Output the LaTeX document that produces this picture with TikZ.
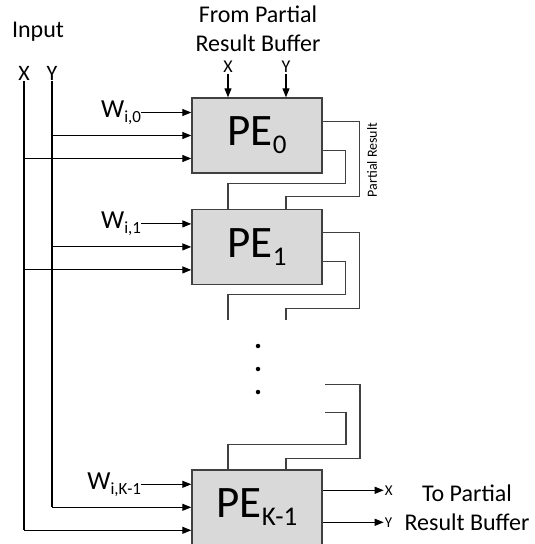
\documentclass[tikz,border=0pt]{standalone}
\usepackage{fontspec}
\setmainfont{Carlito}
\usetikzlibrary{positioning, arrows.meta}

\newcommand{\pesub}[1]{\raisebox{-8pt}{\fontsize{27}{27}\selectfont #1}}
\newcommand{\wsub}[1]{\raisebox{-5pt}{\fontsize{17}{17}\selectfont #1}}

\begin{document}
\begin{tikzpicture}[
    x=1pt, y=-1pt,
    >={Triangle[length=9pt, width=7pt]},
    node distance=35pt,
    pebox/.style={rectangle, draw=black!75, line width=1.4pt, fill=black!15,
                  minimum width=130pt, minimum height=75pt,
                  font=\fontsize{45}{45}\selectfont},
    wire/.style={->, line width=1.1pt},
    trunk/.style={line width=1.1pt},
    loopline/.style={line width=1.1pt, draw=black!75},
    biglabel/.style={font=\fontsize{24}{29}\selectfont, align=center},
    inlabel/.style={font=\fontsize{22}{22}\selectfont, inner sep=1pt},
    toplabel/.style={font=\fontsize{18}{18}\selectfont, inner sep=1pt},
    outlabel/.style={font=\fontsize{15}{15}\selectfont, inner sep=1pt, anchor=west},
    wlabel/.style={font=\fontsize{26}{26}\selectfont, inner sep=0pt, anchor=east},
    vdot/.style={circle, fill, inner sep=0pt, minimum size=4.5pt}
]
  \useasboundingbox (0,0) rectangle (535,544);

  % Column of PEs
  \node[pebox] (pe0) at (257,135.5) {PE\pesub{0}};
  \node[pebox, below=of pe0] (pe1) {PE\pesub{1}};
  \node[pebox, below=184pt of pe1] (pek) {PE\pesub{K-1}};

  % Input side
  \node[biglabel] (input) at (38,32) {Input};
  \node[inlabel] (inx) at (24,73) {X};
  \node[inlabel] (iny) at (52,73) {Y};

  % From buffer
  \node[biglabel] (frombuf) at (258,29) {From Partial\\Result Buffer};
  \node[toplabel] (tx) at (228,67) {X};
  \node[toplabel] (ty) at (286,67) {Y};
  \draw[wire] (tx.south) -- (tx.south |- pe0.north);
  \draw[wire] (ty.south) -- (ty.south |- pe0.north);

  % Inputs to every PE
  \foreach \p/\w in {pe0/{i,0}, pe1/{i,1}, pek/{i,K-1}} {
    \coordinate (\p-w) at ([yshift=23pt]\p.west);
    \coordinate (\p-y) at (\p.west);
    \coordinate (\p-x) at ([yshift=-23pt]\p.west);
    \node[wlabel] (\p-wl) at ([xshift=-50pt]\p-w) {W\wsub{\w}};
    \draw[wire] (\p-wl.east) -- (\p-w);
    \draw[wire] (iny.south |- \p-y) -- (\p-y);
    \draw[wire] (inx.south |- \p-x) -- (\p-x);
  }
  \draw[trunk] (inx.south) -- (inx.south |- pek-x);
  \draw[trunk] (iny.south) -- (iny.south |- pek-y);

  % Partial result loops
  \draw[loopline] ([yshift=14pt]pe0.east) -- ++(37,0)
    |- ([xshift=29pt, yshift=12pt]pe1.north) -- ([xshift=29pt]pe1.north);
  \draw[loopline] ([yshift=-15pt]pe0.east) -- ++(23,0)
    |- ([xshift=-29pt, yshift=25pt]pe1.north) -- ([xshift=-29pt]pe1.north);
  \node[font=\fontsize{14}{14}\selectfont, rotate=90] (prlabel) at (372,160) {Partial Result};

  \coordinate (pe1-outa) at ([xshift=29pt, yshift=-35pt]pe1.south);
  \coordinate (pe1-outb) at ([xshift=-29pt, yshift=-35pt]pe1.south);
  \draw[loopline] ([yshift=14pt]pe1.east) -- ++(37,0)
    |- ([xshift=29pt, yshift=-23pt]pe1.south) -- (pe1-outa);
  \draw[loopline] ([yshift=-15pt]pe1.east) -- ++(23,0)
    |- ([xshift=-29pt, yshift=-9pt]pe1.south) -- (pe1-outb);

  % Dots
  \foreach \i/\yy in {1/346, 2/369, 3/392}
    \node[vdot] (dot\i) at (258,\yy) {};

  \coordinate (pek-ina) at ([xshift=68pt, yshift=85pt]pek.north);
  \coordinate (pek-inb) at ([xshift=68pt, yshift=57pt]pek.north);
  \draw[loopline] (pek-ina) -- ++(35,0)
    |- ([xshift=29pt, yshift=11pt]pek.north) -- ([xshift=29pt]pek.north);
  \draw[loopline] (pek-inb) -- ++(21,0)
    |- ([xshift=-29pt, yshift=25pt]pek.north) -- ([xshift=-29pt]pek.north);

  % Outputs
  \node[outlabel] (ox) at ([xshift=61pt, yshift=17pt]pek.east) {X};
  \node[outlabel] (oy) at ([xshift=61pt, yshift=-15pt]pek.east) {Y};
  \draw[wire] ([yshift=17pt]pek.east) -- (ox.west);
  \draw[wire] ([yshift=-15pt]pek.east) -- (oy.west);
  \node[biglabel] (tobuf) at (467,508) {To Partial\\Result Buffer};
\end{tikzpicture}
\end{document}
